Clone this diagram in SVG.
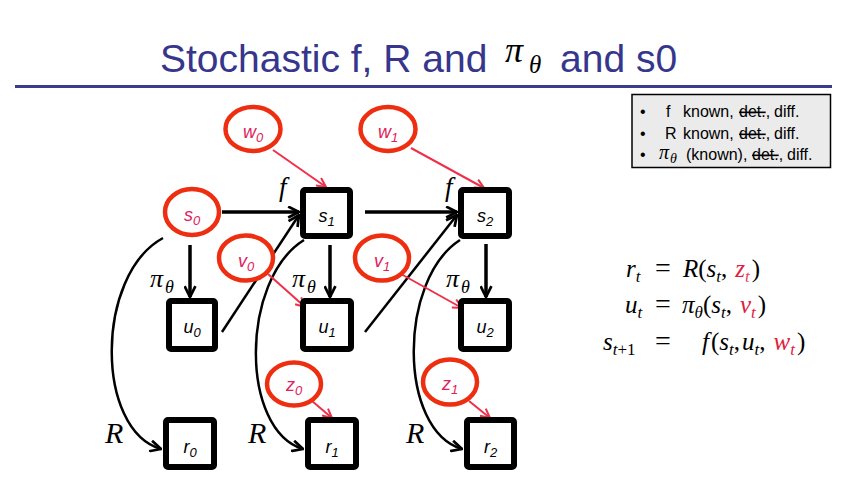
<svg xmlns="http://www.w3.org/2000/svg" width="850" height="500" viewBox="0 0 850 500">
<style>
.title{font-family:"Liberation Sans",Arial,sans-serif;font-size:39px;fill:#36368c}
.math{font-family:"Liberation Serif","Times New Roman",serif;font-style:italic;fill:#000}
.up{font-family:"Liberation Serif","Times New Roman",serif;font-style:normal;fill:#000}
.box{fill:#fff;stroke:#000;stroke-width:6}
.lbl{font-family:"Liberation Sans",Arial,sans-serif;font-style:italic;font-size:18px;fill:#000}
.rlbl{font-family:"Liberation Sans",Arial,sans-serif;font-style:italic;font-size:18px;fill:#e0205a}
.ell{fill:#fff;stroke:#ee2e10;stroke-width:4.5}
.blk{fill:none;stroke:#000;stroke-width:2.5}
.thick{fill:none;stroke:#000;stroke-width:3.5}
.red{fill:none;stroke:#f0304a;stroke-width:2}
.note{font-family:"Liberation Sans",Arial,sans-serif;font-size:16px;fill:#000}
.rv{fill:#e0203a}
</style>
<defs>
<marker id="ab" viewBox="0 0 12 12" refX="11" refY="6" markerWidth="13" markerHeight="13" markerUnits="userSpaceOnUse" orient="auto">
<path d="M1,1 L11,6 L1,11" fill="none" stroke="#000" stroke-width="2.5"/>
</marker>
<marker id="ar" viewBox="0 0 12 12" refX="11" refY="6" markerWidth="11" markerHeight="11" markerUnits="userSpaceOnUse" orient="auto">
<path d="M1,1 L11,6 L1,11" fill="none" stroke="#f0304a" stroke-width="2.2"/>
</marker>
</defs>
<rect width="850" height="500" fill="#fff"/>

<g id="title">
<text class="title" x="160" y="72">Stochastic f, R and</text>
<text class="math" x="505" y="62" font-size="36">π</text>
<text class="math" x="529" y="73" font-size="25">θ</text>
<text class="title" x="560" y="72">and s0</text>
<line x1="15" y1="86.5" x2="832" y2="86.5" stroke="#3c3c8c" stroke-width="3"/>
</g>

<g id="legend">
<rect x="632" y="94.5" width="198.5" height="73" fill="#ebebeb" stroke="#000" stroke-width="1.5"/>
<text class="note" y="117"><tspan x="640">•</tspan><tspan x="666">f</tspan><tspan x="683">known,</tspan><tspan x="739" text-decoration="line-through">det.</tspan><tspan>,</tspan><tspan x="774">diff.</tspan></text>
<text class="note" y="139"><tspan x="640">•</tspan><tspan x="665">R</tspan><tspan x="683">known,</tspan><tspan x="739" text-decoration="line-through">det.</tspan><tspan>,</tspan><tspan x="774">diff.</tspan></text>
<text class="note" y="160"><tspan x="640">•</tspan><tspan x="686">(known),</tspan><tspan x="752" text-decoration="line-through">det.</tspan><tspan>,</tspan><tspan x="787">diff.</tspan></text>
<text class="math" x="659" y="159" font-size="20">π</text>
<text class="math" x="670" y="163" font-size="14">θ</text>
</g>

<g id="connectors">
<line class="thick" x1="222" y1="212" x2="299" y2="212" marker-end="url(#ab)"/>
<line class="thick" x1="365" y1="212" x2="457" y2="212" marker-end="url(#ab)"/>
<line class="thick" x1="190" y1="245" x2="190" y2="297" marker-end="url(#ab)"/>
<line class="thick" x1="330" y1="245" x2="330" y2="297" marker-end="url(#ab)"/>
<line class="thick" x1="486" y1="244" x2="486" y2="297" marker-end="url(#ab)"/>
<line class="blk" x1="222" y1="332" x2="299" y2="215" marker-end="url(#ab)"/>
<line class="blk" x1="365" y1="332" x2="457" y2="215" marker-end="url(#ab)"/>
<path class="blk" d="M163,238 C95,275 95,430 161,449" marker-end="url(#ab)"/>
<path class="blk" d="M304,240 C240,280 240,430 303,449" marker-end="url(#ab)"/>
<path class="blk" d="M460,240 C398,280 398,430 462,449" marker-end="url(#ab)"/>
<line class="red" x1="273" y1="150" x2="326" y2="187" marker-end="url(#ar)"/>
<line class="red" x1="411" y1="148" x2="484" y2="188" marker-end="url(#ar)"/>
<line class="red" x1="268" y1="274" x2="305" y2="307" marker-end="url(#ar)"/>
<line class="red" x1="401" y1="274" x2="462" y2="308" marker-end="url(#ar)"/>
<line class="red" x1="312" y1="401" x2="332" y2="418" marker-end="url(#ar)"/>
<line class="red" x1="469" y1="401" x2="490" y2="418" marker-end="url(#ar)"/>
</g>

<g id="edge-labels">
<text class="math" x="279" y="196" font-size="27">f</text>
<text class="math" x="445" y="196" font-size="27">f</text>
<text class="math" x="150" y="287" font-size="26">π</text>
<text class="math" x="165" y="293" font-size="18">θ</text>
<text class="math" x="292" y="287" font-size="26">π</text>
<text class="math" x="307" y="293" font-size="18">θ</text>
<text class="math" x="446" y="287" font-size="26">π</text>
<text class="math" x="461" y="293" font-size="18">θ</text>
<text class="math" x="105" y="443" font-size="30">R</text>
<text class="math" x="248" y="443" font-size="30">R</text>
<text class="math" x="406" y="443" font-size="30">R</text>
</g>

<g id="s1"><rect class="box" x="303" y="190" width="47" height="46" rx="2"/><text class="lbl" x="326.5" y="222" text-anchor="middle">s<tspan dy="4" font-size="13">1</tspan></text></g>
<g id="s2"><rect class="box" x="461" y="190" width="48" height="46" rx="2"/><text class="lbl" x="485" y="222" text-anchor="middle">s<tspan dy="4" font-size="13">2</tspan></text></g>
<g id="u0"><rect class="box" x="169" y="301" width="46" height="48" rx="2"/><text class="lbl" x="192" y="333" text-anchor="middle">u<tspan dy="4" font-size="13">0</tspan></text></g>
<g id="u1"><rect class="box" x="303" y="301" width="48" height="48" rx="2"/><text class="lbl" x="327" y="333" text-anchor="middle">u<tspan dy="4" font-size="13">1</tspan></text></g>
<g id="u2"><rect class="box" x="461" y="301" width="48" height="48" rx="2"/><text class="lbl" x="485" y="333" text-anchor="middle">u<tspan dy="4" font-size="13">2</tspan></text></g>
<g id="r0"><rect class="box" x="166" y="420" width="48" height="47" rx="2"/><text class="lbl" x="190" y="453" text-anchor="middle">r<tspan dy="4" font-size="13">0</tspan></text></g>
<g id="r1"><rect class="box" x="308" y="420" width="48" height="47" rx="2"/><text class="lbl" x="332" y="453" text-anchor="middle">r<tspan dy="4" font-size="13">1</tspan></text></g>
<g id="r2"><rect class="box" x="467" y="420" width="47" height="47" rx="2"/><text class="lbl" x="490.5" y="453" text-anchor="middle">r<tspan dy="4" font-size="13">2</tspan></text></g>

<g id="w0"><ellipse class="ell" cx="253" cy="129" rx="27.5" ry="22"/><text class="rlbl" x="253" y="138" text-anchor="middle">w<tspan dy="4" font-size="13">0</tspan></text></g>
<g id="w1"><ellipse class="ell" cx="388" cy="129" rx="27.5" ry="22"/><text class="rlbl" x="388" y="138" text-anchor="middle">w<tspan dy="4" font-size="13">1</tspan></text></g>
<g id="s0"><ellipse class="ell" cx="192" cy="212" rx="27" ry="23"/><text class="rlbl" x="192" y="221" text-anchor="middle">s<tspan dy="4" font-size="13">0</tspan></text></g>
<g id="v0"><ellipse class="ell" cx="246" cy="258" rx="27" ry="22.5"/><text class="rlbl" x="246" y="267" text-anchor="middle">v<tspan dy="4" font-size="13">0</tspan></text></g>
<g id="v1"><ellipse class="ell" cx="382" cy="258" rx="27" ry="22.5"/><text class="rlbl" x="382" y="267" text-anchor="middle">v<tspan dy="4" font-size="13">1</tspan></text></g>
<g id="z0"><ellipse class="ell" cx="294" cy="384" rx="27" ry="21.5"/><text class="rlbl" x="294" y="391" text-anchor="middle">z<tspan dy="4" font-size="13">0</tspan></text></g>
<g id="z1"><ellipse class="ell" cx="450" cy="382" rx="27" ry="22.5"/><text class="rlbl" x="450" y="390" text-anchor="middle">z<tspan dy="4" font-size="13">1</tspan></text></g>

<g id="equations" font-size="25">
<text class="math" x="626" y="277">r<tspan dy="5" font-size="17">t</tspan></text>
<text class="up" x="655" y="277" font-size="28">=</text>
<text class="math" x="683" y="277">R<tspan class="up">(</tspan>s<tspan dy="5" font-size="17">t</tspan><tspan class="up" dy="-5">,</tspan><tspan class="rv" dx="8" fill="#e8406a">z</tspan><tspan dy="5" font-size="17" fill="#e8406a">t</tspan><tspan class="up" dx="2" dy="-5">)</tspan></text>

<text class="math" x="625" y="313">u<tspan dy="5" font-size="17">t</tspan></text>
<text class="up" x="655" y="313" font-size="28">=</text>
<text class="math" x="682" y="313">π<tspan dy="5" font-size="17">θ</tspan><tspan class="up" dy="-5">(</tspan>s<tspan dy="5" font-size="17">t</tspan><tspan class="up" dy="-5">,</tspan><tspan class="rv" dx="8">v</tspan><tspan class="rv" dy="5" font-size="17">t</tspan><tspan class="up" dx="2" dy="-5">)</tspan></text>

<text class="math" x="603" y="350">s<tspan dy="5" font-size="17">t</tspan><tspan class="up" font-size="17">+1</tspan></text>
<text class="up" x="655" y="350" font-size="28">=</text>
<text class="math" x="702" y="350">f<tspan class="up" dx="2">(</tspan>s<tspan dy="5" font-size="17">t</tspan><tspan class="up" dy="-5">,</tspan><tspan dx="2">u</tspan><tspan dy="5" font-size="17">t</tspan><tspan class="up" dy="-5">,</tspan><tspan class="rv" dx="8">w</tspan><tspan class="rv" dy="5" font-size="17">t</tspan><tspan class="up" dx="2" dy="-5">)</tspan></text>
</g>
</svg>
